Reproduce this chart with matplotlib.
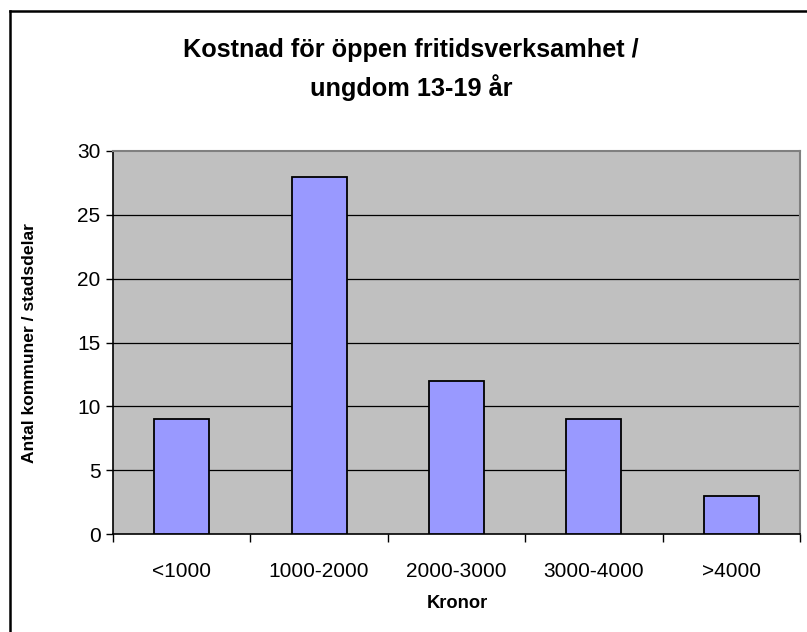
import matplotlib
matplotlib.use("Agg")
import matplotlib.pyplot as plt
from matplotlib.lines import Line2D
import numpy as np

categories = ["<1000", "1000-2000", "2000-3000", "3000-4000", ">4000"]
values = [9, 28, 12, 9, 3]
yticks = [0, 5, 10, 15, 20, 25, 30]

plt.rcParams['font.family'] = ['Liberation Sans', 'DejaVu Sans']

W, H = 807, 632
fig = plt.figure(figsize=(W/100, H/100), dpi=100)
ax = fig.add_axes([113/W, 1-534/H, (800-113)/W, (534-151)/H])
ax.set_facecolor('#C0C0C0')

x = np.arange(len(categories))
ax.bar(x, values, width=0.4, color='#9999FF', edgecolor='black', linewidth=1.3, zorder=3)

ax.set_xlim(-0.5, len(categories)-0.5)
ax.set_ylim(0, 30)
ax.set_yticks(yticks)
ax.set_yticklabels([str(t) for t in yticks], fontsize=15)
for t in yticks[1:-1]:
    ax.axhline(t, color='black', linewidth=0.9, zorder=1)

ax.set_xticks(x)
ax.set_xticklabels(categories, fontsize=15)
ax.set_xticks(np.arange(-0.5, len(categories)), minor=True)
ax.tick_params(axis='x', which='major', length=0, pad=20)
ax.tick_params(axis='x', which='minor', length=6, width=1, direction='out', color='black')
ax.tick_params(axis='y', which='major', length=5, width=1, direction='out', pad=4)

for s in ['left', 'bottom']:
    ax.spines[s].set_color('black')
    ax.spines[s].set_linewidth(1.2)
for s in ['top', 'right']:
    ax.spines[s].set_color('#808080')
    ax.spines[s].set_linewidth(1.5)

fig.text(411/W, 1-50/H, "Kostnad för öppen fritidsverksamhet /", ha='center', va='center',
         fontsize=18.2, fontweight='bold')
fig.text(411/W, 1-88/H, "ungdom 13-19 år", ha='center', va='center',
         fontsize=18.2, fontweight='bold')
fig.text(457/W, 1-603/H, "Kronor", ha='center', va='center', fontsize=13.2, fontweight='bold')
fig.text(30/W, 1-343/H, "Antal kommuner / stadsdelar", ha='center', va='center',
         rotation=90, fontsize=12.6, fontweight='bold')

# outer chart border (cropped: only top and left visible)
fig.add_artist(Line2D([10/W, 10/W], [0, 1-11/H], transform=fig.transFigure, color='black', linewidth=1.8))
fig.add_artist(Line2D([10/W, 1], [1-11/H, 1-11/H], transform=fig.transFigure, color='black', linewidth=1.8))

fig.savefig("out.png", dpi=100)
